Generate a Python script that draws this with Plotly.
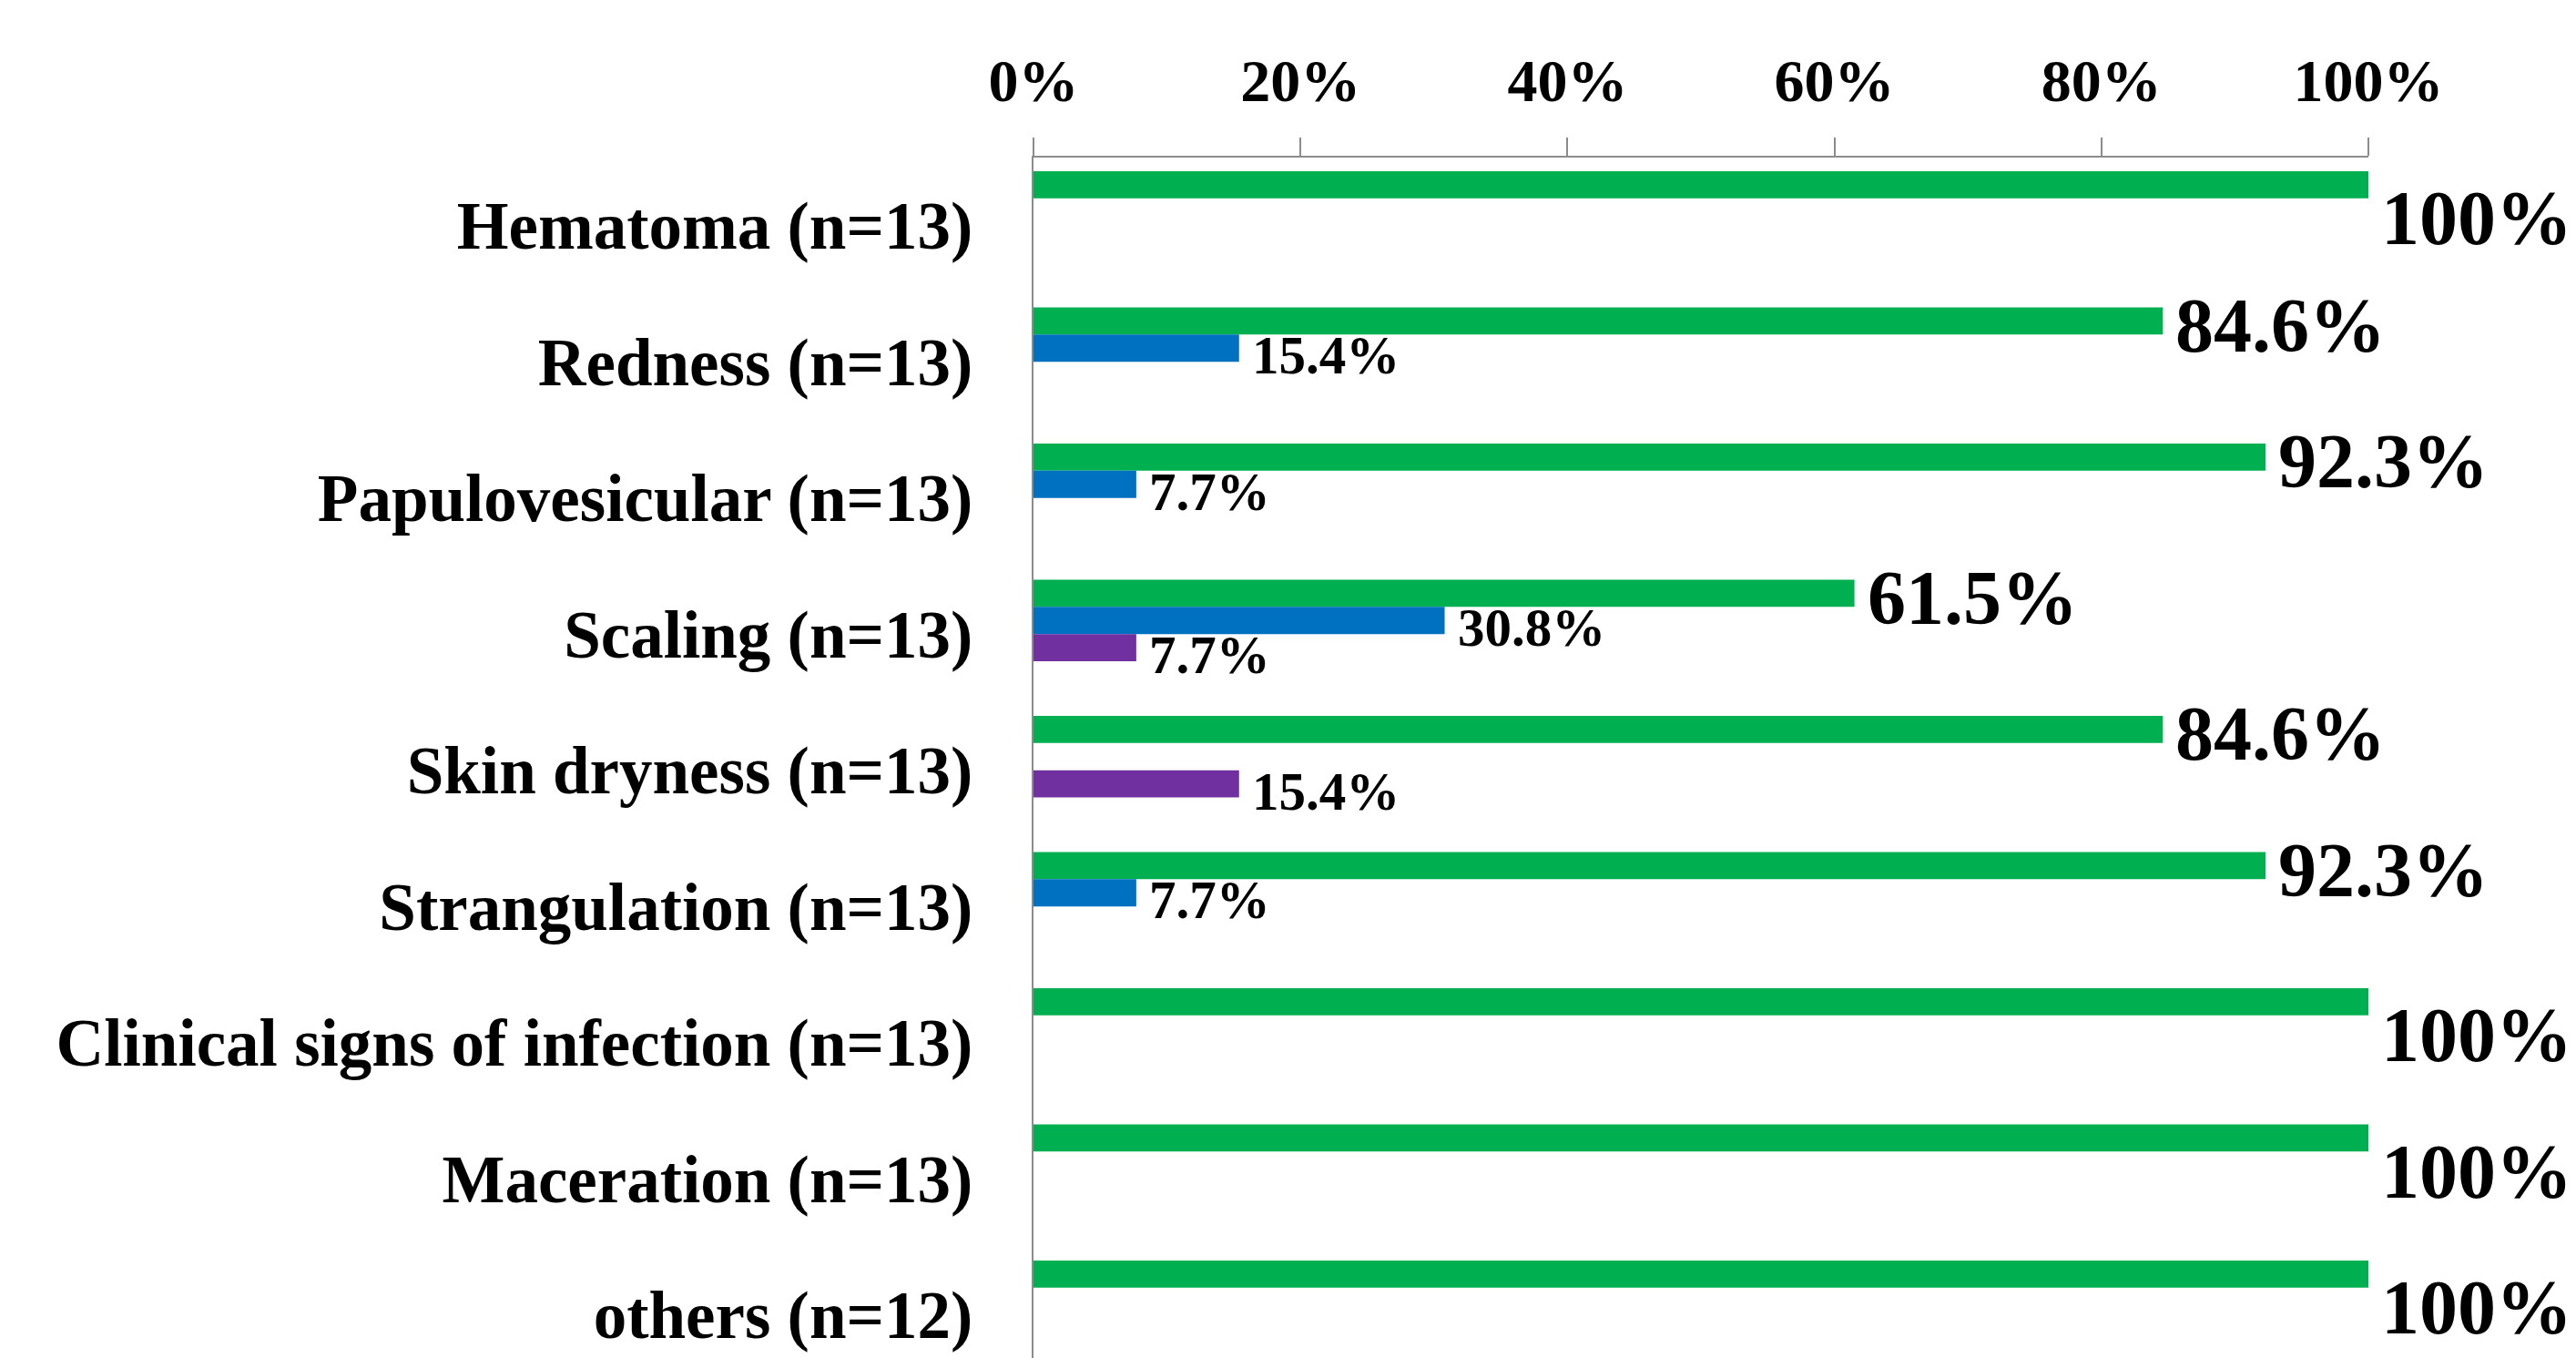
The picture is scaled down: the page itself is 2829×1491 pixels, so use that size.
import plotly.graph_objects as go

categories = [
    "Hematoma (n=13)",
    "Redness (n=13)",
    "Papulovesicular (n=13)",
    "Scaling (n=13)",
    "Skin dryness (n=13)",
    "Strangulation (n=13)",
    "Clinical signs of infection (n=13)",
    "Maceration (n=13)",
    "others (n=12)",
]
green_vals = [100, 84.6, 92.3, 61.5, 84.6, 92.3, 100, 100, 100]
blue_vals = [0, 15.4, 7.7, 30.8, 0, 7.7, 0, 0, 0]
purple_vals = [0, 0, 0, 7.7, 15.4, 0, 0, 0, 0]
empty_vals = [0, 0, 0, 0, 0, 0, 0, 0, 0]

tick_vals = [0, 20, 40, 60, 80, 100]
tick_text = ["0%", "20%", "40%", "60%", "80%", "100%"]

FONT = "Liberation Serif"
GREEN = "#00B050"
BLUE = "#0070C0"
PURPLE = "#7030A0"
AXIS = "#8c8c8c"

fig = go.Figure()
series = [
    ("Series 1", green_vals, GREEN),
    ("Series 2", blue_vals, BLUE),
    ("Series 3", purple_vals, PURPLE),
    ("Series 4", empty_vals, "#ffffff"),
]
for name, vals, col in series:
    fig.add_trace(go.Bar(
        name=name, y=categories, x=vals, orientation="h",
        marker=dict(color=col, line=dict(width=0)),
        showlegend=False, hoverinfo="skip",
    ))

annotations = []
# label offsets (pixels) per series: green, blue, purple
for vals, yshift, size in [(green_vals, 40, 84), (blue_vals, 7, 59), (purple_vals, -23, 59)]:
    for cat, v in zip(categories, vals):
        if v <= 0:
            continue
        txt = f"{v:g}%"
        ys = yshift
        if v >= 100:
            ys = 8
        annotations.append(dict(
            x=v, y=cat, xref="x", yref="y", text=txt, showarrow=False,
            xanchor="left", yanchor="middle", xshift=12, yshift=ys,
            font=dict(family=FONT, size=size, color="black", weight="bold"),
        ))

fig.update_layout(
    width=2829, height=1491,
    margin=dict(l=1127, r=236, t=165, b=0),
    paper_bgcolor="white", plot_bgcolor="white",
    barmode="group", bargap=0.2, bargroupgap=0,
    annotations=annotations,
    xaxis=dict(
        side="top", range=[0, 100], tickvals=tick_vals, ticktext=tick_text,
        ticks="outside", ticklen=20, tickwidth=2, tickcolor=AXIS,
        showline=True, linecolor=AXIS, linewidth=2, showgrid=False, zeroline=False,
        tickfont=dict(family=FONT, size=66, color="black", weight="bold"),
        ticklabelstandoff=14, fixedrange=True,
    ),
    yaxis=dict(
        type="category", categoryorder="array", categoryarray=categories,
        range=[8.37, -0.5],
        showline=True, linecolor=AXIS, linewidth=2, showgrid=False, zeroline=False,
        ticks="", ticklabelstandoff=50,
        tickfont=dict(family=FONT, size=73, color="black", weight="bold"),
        fixedrange=True,
    ),
)

fig.write_html("out.html")
